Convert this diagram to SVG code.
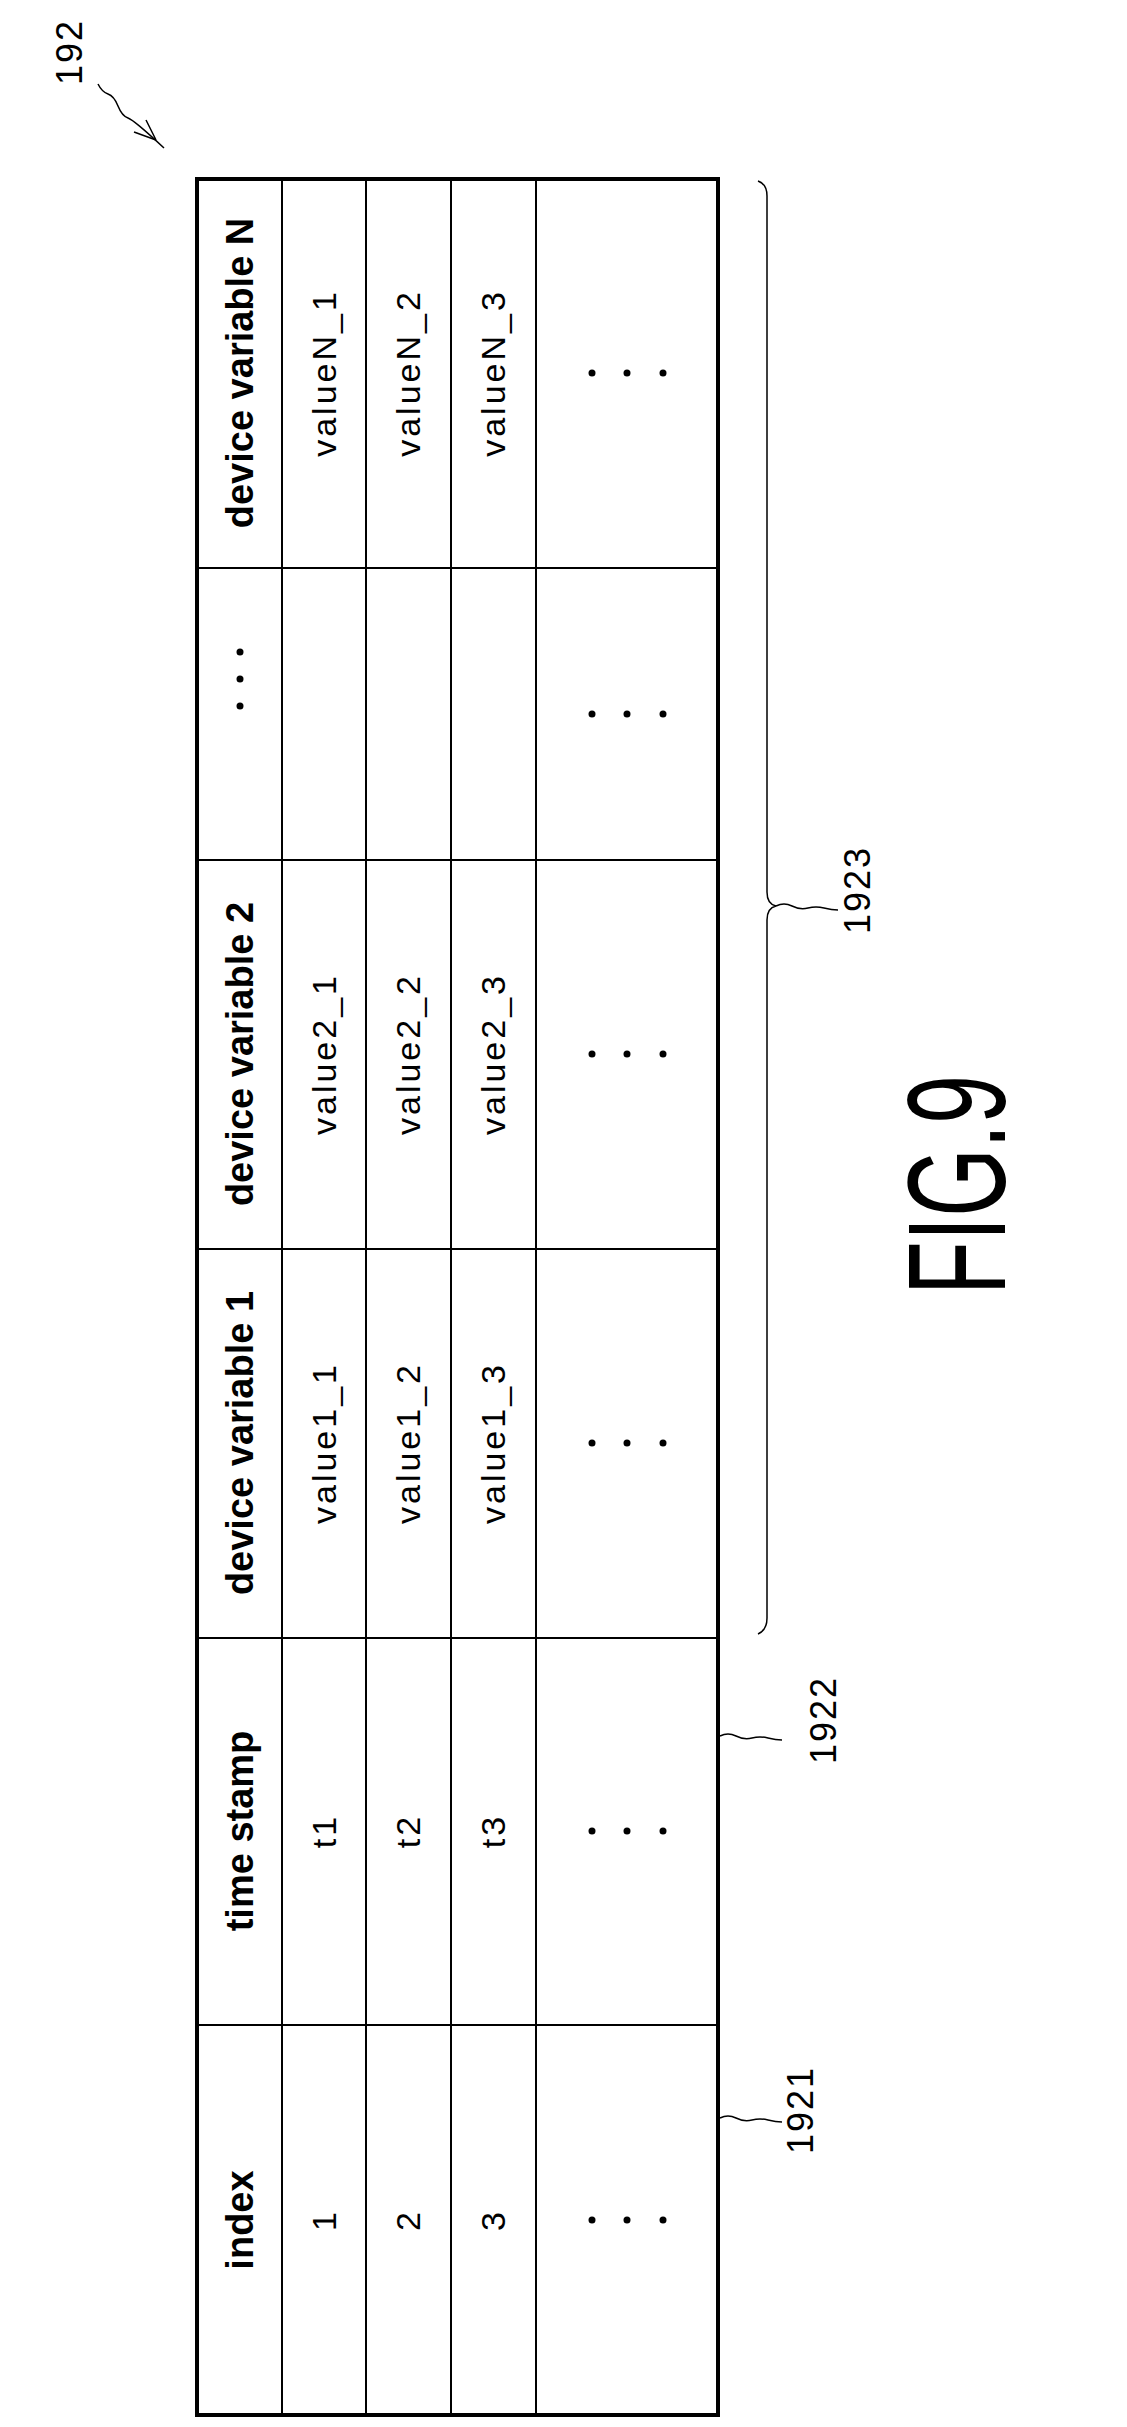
<svg xmlns="http://www.w3.org/2000/svg" width="1127" height="2427" viewBox="0 0 1127 2427">
<style>
.h{font-family:"Liberation Sans",Arial,sans-serif;font-weight:bold;font-size:38px;text-anchor:middle;fill:#000}
.v{font-family:"Liberation Sans",Arial,sans-serif;font-size:34px;text-anchor:middle;fill:#000;letter-spacing:3px}
.n{font-family:"Liberation Sans",Arial,sans-serif;font-size:36px;text-anchor:middle;fill:#000;letter-spacing:2px}
.ln{stroke:#000;stroke-width:2;fill:none}
.th{stroke:#000;stroke-width:4;fill:none}
</style>
<rect width="1127" height="2427" fill="#fff"/>
<g id="table">
<rect class="th" x="197" y="179" width="521" height="2236"/>
<line class="ln" x1="282" y1="179" x2="282" y2="2415"/>
<line class="ln" x1="366" y1="179" x2="366" y2="2415"/>
<line class="ln" x1="451" y1="179" x2="451" y2="2415"/>
<line class="ln" x1="536" y1="179" x2="536" y2="2415"/>
<line class="ln" x1="197" y1="568" x2="718" y2="568"/>
<line class="ln" x1="197" y1="860" x2="718" y2="860"/>
<line class="ln" x1="197" y1="1249" x2="718" y2="1249"/>
<line class="ln" x1="197" y1="1638" x2="718" y2="1638"/>
<line class="ln" x1="197" y1="2025" x2="718" y2="2025"/>
</g>
<g id="headers">
<text class="h" transform="translate(253,2220) rotate(-90)">index</text>
<text class="h" transform="translate(253,1831) rotate(-90)">time stamp</text>
<text class="h" transform="translate(253,1443) rotate(-90)">device variable 1</text>
<text class="h" transform="translate(253,1054) rotate(-90)">device variable 2</text>
<text class="h" transform="translate(253,373) rotate(-90)">device variable N</text>
</g>
<g id="cells">
<text class="v" transform="translate(336,2220) rotate(-90)">1</text>
<text class="v" transform="translate(420,2220) rotate(-90)">2</text>
<text class="v" transform="translate(505,2220) rotate(-90)">3</text>
<text class="v" transform="translate(336,1831) rotate(-90)">t1</text>
<text class="v" transform="translate(420,1831) rotate(-90)">t2</text>
<text class="v" transform="translate(505,1831) rotate(-90)">t3</text>
<text class="v" transform="translate(336,1443) rotate(-90)">value1_1</text>
<text class="v" transform="translate(420,1443) rotate(-90)">value1_2</text>
<text class="v" transform="translate(505,1443) rotate(-90)">value1_3</text>
<text class="v" transform="translate(336,1054) rotate(-90)">value2_1</text>
<text class="v" transform="translate(420,1054) rotate(-90)">value2_2</text>
<text class="v" transform="translate(505,1054) rotate(-90)">value2_3</text>
<text class="v" transform="translate(336,373) rotate(-90)">valueN_1</text>
<text class="v" transform="translate(420,373) rotate(-90)">valueN_2</text>
<text class="v" transform="translate(505,373) rotate(-90)">valueN_3</text>
</g>
<g id="dots" fill="#000">
<circle cx="240" cy="679" r="3.5"/><circle cx="240" cy="706" r="3.5"/><circle cx="240" cy="652" r="3.5"/>
<circle cx="592" cy="2220" r="3.5"/><circle cx="627" cy="2220" r="3.5"/><circle cx="663" cy="2220" r="3.5"/>
<circle cx="592" cy="1831" r="3.5"/><circle cx="627" cy="1831" r="3.5"/><circle cx="663" cy="1831" r="3.5"/>
<circle cx="592" cy="1443" r="3.5"/><circle cx="627" cy="1443" r="3.5"/><circle cx="663" cy="1443" r="3.5"/>
<circle cx="592" cy="1054" r="3.5"/><circle cx="627" cy="1054" r="3.5"/><circle cx="663" cy="1054" r="3.5"/>
<circle cx="592" cy="714" r="3.5"/><circle cx="627" cy="714" r="3.5"/><circle cx="663" cy="714" r="3.5"/>
<circle cx="592" cy="373" r="3.5"/><circle cx="627" cy="373" r="3.5"/><circle cx="663" cy="373" r="3.5"/>
</g>
<g id="connectors" stroke="#000" stroke-width="1.5" fill="none">
<path d="M758,181 Q767,184 767,196 L767,892 Q767,904 776,906 Q767,908 767,920 L767,1618 Q767,1630 758,1634"/>
<path d="M776,906 q8,-4 16,0 t16,2 t16,0 t14,2"/>
<path d="M720,1736 q8,-4 16,0 t16,2 t16,0 t14,2"/>
<path d="M720,2118 q8,-4 16,0 t16,2 t16,0 t14,2"/>
<path d="M98,84 q4,8 10,10 t10,12 t10,12 t36,30"/>
<path d="M156,140 l-22,-8 M156,140 l-10,-20"/>
</g>
<g id="labels">
<text class="n" transform="translate(870,890) rotate(-90)">1923</text>
<text class="n" transform="translate(836,1720) rotate(-90)">1922</text>
<text class="n" transform="translate(813,2110) rotate(-90)">1921</text>
<text class="n" transform="translate(82,52) rotate(-90)">192</text>
<text font-family="Liberation Sans,Arial,sans-serif" font-size="140" text-anchor="middle" textLength="220" lengthAdjust="spacingAndGlyphs" transform="translate(1005,1185) rotate(-90)">FIG.9</text>
</g>
</svg>
